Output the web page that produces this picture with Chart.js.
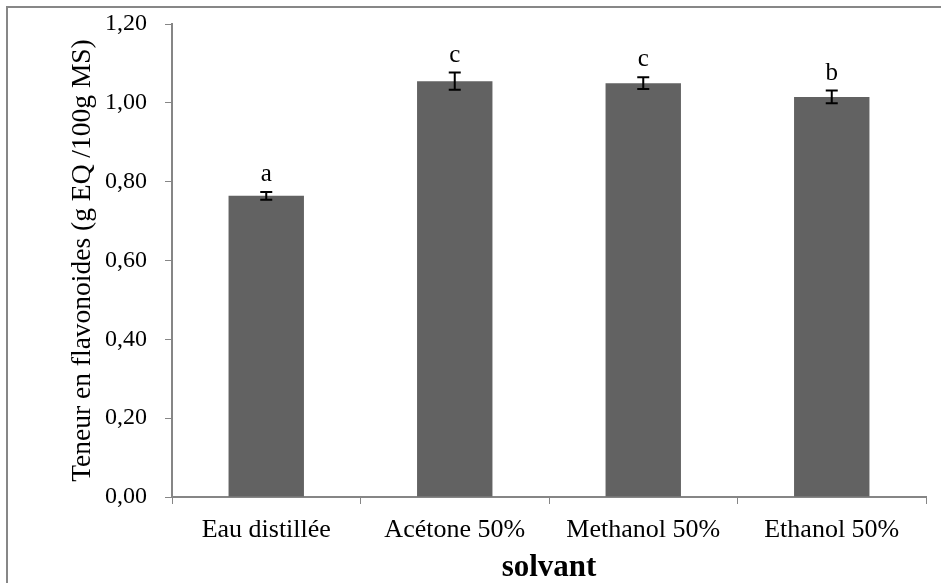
<!DOCTYPE html>
<html>
<head>
<meta charset="utf-8">
<script src="https://cdn.jsdelivr.net/npm/chart.js@4/dist/chart.umd.min.js"></script>
<style>
  html, body { margin: 0; padding: 0; background: #fff; }
  #wrap { width: 941px; height: 583px; }
</style>
</head>
<body>
<div id="wrap"><canvas id="flavChart"></canvas></div>
<script>
// donnees
const solvants = ['Eau distillée', 'Acétone 50%', 'Methanol 50%', 'Ethanol 50%'];
const teneurs = [0.764, 1.055, 1.050, 1.015];
const ecarts = [0.010, 0.022, 0.015, 0.016];
const lettres = ['a', 'c', 'c', 'b'];

const serif = '"Liberation Serif", "Times New Roman", serif';
const grisAxe = '#868686';

// cadre, barres d'erreur et lettres de groupes
const extrasPlugin = {
    id: 'extras',
    beforeDraw(chart) {
        const c = chart.ctx;
        c.save();
        c.fillStyle = '#fff';
        c.fillRect(0, 0, chart.width, chart.height);
        c.strokeStyle = '#878787';
        c.lineWidth = 2;
        c.beginPath();
        c.moveTo(7, chart.height);
        c.lineTo(7, 7);
        c.lineTo(chart.width, 7);
        c.stroke();
        c.restore();
    },
    afterDatasetsDraw(chart) {
        const c = chart.ctx;
        const y = chart.scales.y;
        const meta = chart.getDatasetMeta(0);
        c.save();
        c.strokeStyle = '#000';
        c.lineWidth = 2;
        c.fillStyle = '#000';
        c.font = '25px ' + serif;
        c.textAlign = 'center';
        c.textBaseline = 'bottom';
        meta.data.forEach((bar, i) => {
            const x = bar.x;
            const hi = y.getPixelForValue(teneurs[i] + ecarts[i]);
            const lo = y.getPixelForValue(teneurs[i] - ecarts[i]);
            c.beginPath();
            c.moveTo(x, hi); c.lineTo(x, lo);
            c.moveTo(x - 6, hi); c.lineTo(x + 6, hi);
            c.moveTo(x - 6, lo); c.lineTo(x + 6, lo);
            c.stroke();
            c.fillText(lettres[i], x, hi - 5);
        });
        c.restore();
    }
};

const ctx = document.getElementById('flavChart');
new Chart(ctx, {
    type: 'bar',
    data: {
        labels: solvants,
        datasets: [{
            data: teneurs,
            backgroundColor: '#626262',
            barPercentage: 0.4,
            categoryPercentage: 1.0
        }]
    },
    options: {
        responsive: true,
        maintainAspectRatio: false,
        animation: false,
        devicePixelRatio: 1,
        layout: {
            padding: { left: 60, right: 15, top: 24, bottom: 0 }
        },
        scales: {
            x: {
                grid: {
                    offset: true,
                    drawOnChartArea: false,
                    tickLength: 7,
                    color: grisAxe
                },
                border: { color: grisAxe, width: 2 },
                ticks: {
                    color: '#000',
                    font: { family: serif, size: 26 },
                    padding: 11
                },
                title: {
                    display: true,
                    text: 'solvant',
                    color: '#000',
                    font: { family: serif, size: 31, weight: 'bold', lineHeight: 1.0 },
                    padding: { top: 0, bottom: 0 }
                },
                afterFit(scale) {
                    scale.height = 86;
                    scale.paddingLeft = 0;
                    scale.paddingRight = 0;
                }
            },
            y: {
                min: 0,
                max: 1.2,
                grid: {
                    drawOnChartArea: false,
                    tickLength: 7,
                    color: grisAxe
                },
                border: { color: grisAxe, width: 2 },
                ticks: {
                    stepSize: 0.2,
                    color: '#000',
                    font: { family: serif, size: 24 },
                    padding: 18,
                    callback: v => v.toFixed(2).replace('.', ',')
                },
                title: {
                    display: true,
                    text: 'Teneur en flavonoides (g EQ /100g MS)',
                    color: '#000',
                    font: { family: serif, size: 27.5 },
                    padding: { top: 6, bottom: 0 }
                },
                afterFit(scale) {
                    scale.width = 112;
                    scale.paddingTop = 0;
                    scale.paddingBottom = 0;
                }
            }
        },
        plugins: {
            legend: { display: false },
            tooltip: { enabled: false }
        }
    },
    plugins: [extrasPlugin]
});
</script>
</body>
</html>
